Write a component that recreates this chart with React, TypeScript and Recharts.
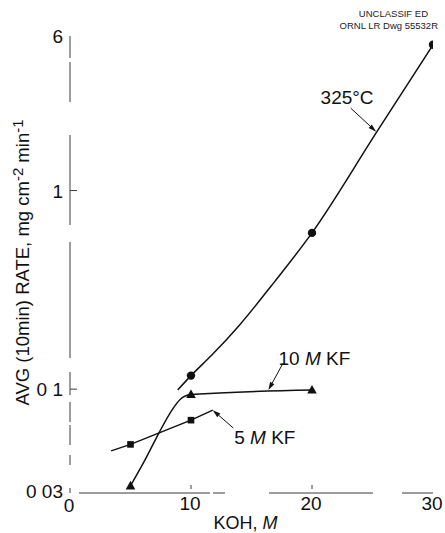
import React from "react";
import {
  ComposedChart,
  Line,
  Scatter,
  XAxis,
  YAxis,
  ReferenceLine,
  ReferenceDot,
} from "recharts";

// ---- tick definitions ----
const X_TICKS = [0, 10, 20, 30];
const Y_TICKS = [0.03, 0.1, 1, 6];
const Y_TICK_LABELS = ["0 03", "0 1", "1", "6"];

// ---- 325°C curve (smooth line) ----
const c325CurveX = [8.9, 10, 11.7, 14, 16.9, 20, 25.3, 30];
const c325CurveY = [0.099, 0.117, 0.148, 0.21, 0.347, 0.612, 1.95, 5.42];
const c325PtsX = [10, 20, 30];
const c325PtsY = [0.117, 0.612, 5.42];

// ---- 10 M KF ----
const kf10CurveX = [5, 6.2, 7.4, 8.4, 9.1, 10, 20];
const kf10CurveY = [0.0326, 0.044, 0.061, 0.078, 0.0887, 0.094, 0.099];
const kf10PtsX = [5, 10, 20];
const kf10PtsY = [0.0326, 0.094, 0.099];

// ---- 5 M KF ----
const kf5CurveX = [3.4, 5, 10, 11.8];
const kf5CurveY = [0.0489, 0.0527, 0.0698, 0.0784];
const kf5PtsX = [5, 10];
const kf5PtsY = [0.0527, 0.0698];

const zip = (xs: number[], ys: number[]) => xs.map((x, i) => ({ x, y: ys[i] }));

const c325Curve = zip(c325CurveX, c325CurveY);
const c325Pts = zip(c325PtsX, c325PtsY);
const kf10Curve = zip(kf10CurveX, kf10CurveY);
const kf10Pts = zip(kf10PtsX, kf10PtsY);
const kf5Curve = zip(kf5CurveX, kf5CurveY);
const kf5Pts = zip(kf5PtsX, kf5PtsY);

const FONT = "'Liberation Sans', Arial, sans-serif";
const INK = "#111";
const FRAME = "#3a3a3a";

const CircleMark = (p: any) => <circle cx={p.cx} cy={p.cy} r={4.2} fill={INK} />;
const TriMark = (p: any) => (
  <polygon
    points={`${p.cx},${p.cy - 5} ${p.cx - 4.8},${p.cy + 3.6} ${p.cx + 4.8},${p.cy + 3.6}`}
    fill={INK}
  />
);
const SquareMark = (p: any) => (
  <rect x={p.cx - 3.3} y={p.cy - 3.3} width={6.6} height={6.6} fill={INK} />
);

const arrowShape = (p: any) => {
  const { x1, y1, x2, y2 } = p;
  const a = Math.atan2(y2 - y1, x2 - x1);
  const L = 8;
  const W = 2.4;
  const bx = x2 - L * Math.cos(a);
  const by = y2 - L * Math.sin(a);
  const nx = -Math.sin(a) * W;
  const ny = Math.cos(a) * W;
  return (
    <g>
      <line x1={x1} y1={y1} x2={bx} y2={by} stroke={INK} strokeWidth={1} />
      <polygon
        points={`${x2},${y2} ${bx + nx},${by + ny} ${bx - nx},${by - ny}`}
        fill={INK}
      />
    </g>
  );
};

const textShape = (parts: React.ReactNode) => (p: any) => (
  <text
    x={p.cx}
    y={p.cy}
    textAnchor="middle"
    dominantBaseline="central"
    fontSize={19}
    fontFamily={FONT}
    fill={INK}
  >
    {parts}
  </text>
);

const YTick = (p: any) => {
  const v = p.payload.value;
  const idx = Y_TICKS.indexOf(v);
  const label = idx >= 0 ? Y_TICK_LABELS[idx] : String(v);
  const showInner = v === 0.1 || v === 1;
  const dy = v === 0.03 ? 5 : 7;
  return (
    <g>
      {showInner && (
        <line x1={p.x + 6} y1={p.y} x2={p.x + 13} y2={p.y} stroke={FRAME} strokeWidth={1} />
      )}
      <text
        x={p.x - 1}
        y={p.y + dy}
        textAnchor="end"
        fontSize={19}
        fontFamily={FONT}
        fill={INK}
      >
        {label}
      </text>
    </g>
  );
};

const XTick = (p: any) => {
  const v = p.payload.value;
  const showInner = v === 10 || v === 20;
  return (
    <g>
      {showInner && (
        <line x1={p.x} y1={p.y - 4} x2={p.x} y2={p.y - 8} stroke={FRAME} strokeWidth={1} />
      )}
      <text
        x={p.x - 1}
        y={v === 0 ? p.y + 19 : p.y + 17}
        textAnchor="middle"
        fontSize={19}
        fontFamily={FONT}
        fill={INK}
      >
        {String(v)}
      </text>
    </g>
  );
};

const YLabel = (p: any) => {
  const vb = p.viewBox || {};
  const cx = 22;
  const cy = (vb.y ?? 36) + (vb.height ?? 457) / 2 - 2;
  return (
    <text
      transform={`translate(${cx},${cy}) rotate(-90)`}
      textAnchor="middle"
      dominantBaseline="central"
      fontSize={18.5}
      fontFamily={FONT}
      fill={INK}
    >
      AVG (10min) RATE,  mg cm
      <tspan fontSize={15} dy={-5}>-2</tspan>
      <tspan dy={5}> min</tspan>
      <tspan fontSize={15} dy={-5}>-1</tspan>
    </text>
  );
};

const XLabel = (p: any) => {
  const vb = p.viewBox || {};
  const cx = (vb.x ?? 70) + (vb.width ?? 363) / 2 - 6;
  return (
    <text
      x={cx}
      y={529}
      textAnchor="middle"
      fontSize={18}
      fontFamily={FONT}
      fill={INK}
    >
      KOH, <tspan fontStyle="italic">M</tspan>
    </text>
  );
};

export default function App() {
  return (
    <div style={{ position: "absolute", left: 0, top: 0, width: 445, height: 533, background: "#fff" }}>
      <div
        style={{
          position: "absolute",
          left: 330,
          top: 8,
          width: 108,
          fontFamily: FONT,
          fontSize: 9.5,
          lineHeight: "12px",
          color: "#222",
          textAlign: "right",
          whiteSpace: "nowrap",
        }}
      >
        <div style={{ paddingRight: 10 }}>UNCLASSIF ED</div>
        <div>ORNL LR Dwg 55532R</div>
      </div>
      <ComposedChart
        width={445}
        height={533}
        margin={{ top: 36, right: 12, bottom: 0, left: 10 }}
        style={{ fontFamily: FONT }}
      >
        <XAxis
          dataKey="x"
          type="number"
          domain={[0, 30]}
          ticks={X_TICKS}
          interval={0}
          height={40}
          allowDataOverflow
          tickLine={false}
          tickSize={0}
          tickMargin={0}
          tick={<XTick />}
          axisLine={{ stroke: FRAME, strokeWidth: 1, strokeDasharray: "0 9 131 3 12 44 104 29 40" }}
          label={<XLabel />}
        />
        <XAxis
          xAxisId="top"
          orientation="top"
          dataKey="x"
          type="number"
          domain={[0, 30]}
          height={0}
          tick={false}
          tickLine={false}
          axisLine={{ stroke: FRAME, strokeWidth: 1, strokeDasharray: "97 6 15 70 114 8 60" }}
        />
        <YAxis
          type="number"
          scale="log"
          domain={[0.03, 6]}
          ticks={Y_TICKS}
          interval={0}
          width={60}
          allowDataOverflow
          tickLine={false}
          tickSize={0}
          tickMargin={6}
          tick={<YTick />}
          axisLine={{
            stroke: FRAME,
            strokeWidth: 1,
            strokeDasharray: "22 4 40 33 90 17 116 14 23 7 20 3 20 10 10 23 10",
          }}
          label={<YLabel />}
        />
        <YAxis
          yAxisId="right"
          orientation="right"
          type="number"
          scale="log"
          domain={[0.03, 6]}
          width={0}
          tick={false}
          tickLine={false}
          axisLine={{
            stroke: FRAME,
            strokeWidth: 1,
            strokeDasharray: "22 45 104 35 56 27 98 20 60",
          }}
        />

        <Line
          data={c325Curve}
          dataKey="y"
          type="monotone"
          stroke={INK}
          strokeWidth={1.5}
          dot={false}
          activeDot={false}
          isAnimationActive={false}
        />
        <Line
          data={kf10Curve}
          dataKey="y"
          type="monotone"
          stroke={INK}
          strokeWidth={1.5}
          dot={false}
          activeDot={false}
          isAnimationActive={false}
        />
        <Line
          data={kf5Curve}
          dataKey="y"
          type="linear"
          stroke={INK}
          strokeWidth={1.5}
          dot={false}
          activeDot={false}
          isAnimationActive={false}
        />
        <Scatter data={c325Pts} dataKey="y" shape={CircleMark} isAnimationActive={false} />
        <Scatter data={kf10Pts} dataKey="y" shape={TriMark} isAnimationActive={false} />
        <Scatter data={kf5Pts} dataKey="y" shape={SquareMark} isAnimationActive={false} />

        {/* annotation arrows */}
        <ReferenceLine
          segment={[
            { x: 23.2, y: 2.6 },
            { x: 25.3, y: 1.98 },
          ]}
          shape={arrowShape}
        />
        <ReferenceLine
          segment={[
            { x: 17.6, y: 0.135 },
            { x: 16.4, y: 0.099 },
          ]}
          shape={arrowShape}
        />
        <ReferenceLine
          segment={[
            { x: 13.5, y: 0.0637 },
            { x: 11.8, y: 0.0784 },
          ]}
          shape={arrowShape}
        />

        {/* annotation labels */}
        <ReferenceDot x={22.9} y={2.95} r={0} shape={textShape("325°C")} />
        <ReferenceDot
          x={20.2}
          y={0.143}
          r={0}
          shape={textShape(
            <>
              10 <tspan fontStyle="italic">M</tspan>  KF
            </>
          )}
        />
        <ReferenceDot
          x={16.1}
          y={0.0574}
          r={0}
          shape={textShape(
            <>
              5 <tspan fontStyle="italic">M</tspan>  KF
            </>
          )}
        />
      </ComposedChart>
    </div>
  );
}
